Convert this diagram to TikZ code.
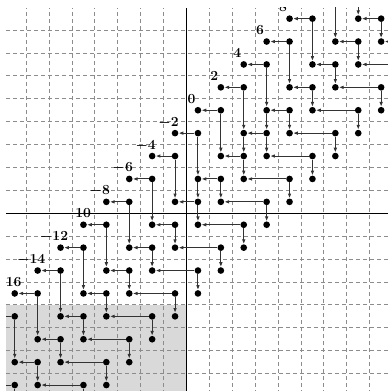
\documentclass[tikz,border=0pt]{standalone}
\usetikzlibrary{arrows.meta}
\tikzset{
  gridline/.style={draw=black!45, line width=1.1pt, dash pattern=on 5pt off 3.7pt},
  axisline/.style={draw=black, line width=1.2pt},
  dot/.style={circle, fill=black, inner sep=0pt, minimum size=0.29cm},
  arr/.style={draw=black!80, line width=1.2pt, -{Latex[length=6pt,width=4.5pt]}},
  lab/.style={anchor=base, inner sep=0pt, font=\fontsize{18}{18}\selectfont\bfseries\boldmath}
}
\begin{document}
\begin{tikzpicture}[x=1cm,y=1cm]
\useasboundingbox (-8.144,-7.760) rectangle (8.799,9.314);
\begin{scope}
\clip (-7.88,-7.9) rectangle (8.9,8.97);
\fill[black!15] (-7.88,-7.9) rectangle (0,-4);
\foreach \i in {-7,...,8}{\draw[gridline] (\i,-7.9) -- (\i,8.97);}
\foreach \j in {-7,...,8}{\draw[gridline] (-7.88,\j) -- (8.9,\j);}
\draw[axisline] (0,-7.9) -- (0,8.97);
\draw[axisline] (-7.88,0) -- (8.9,0);
% dots
\foreach \r in {-10,...,11}{
  \foreach \d in {-4,-3,-1,0,1,3,4}{
    \pgfmathtruncatemacro\cc{\r+\d+20}
    \pgfmathtruncatemacro\rr{\r+20}
    \node[dot] (p\cc-\rr) at ({\r+\d+0.5},{\r+0.5}) {};
  }
}
% horizontal arrows
\foreach \r in {-10,...,11}{
  \pgfmathtruncatemacro\rr{\r+20}
  \pgfmathtruncatemacro\aa{\r-3+20}\pgfmathtruncatemacro\ab{\r-4+20}
  \pgfmathtruncatemacro\ba{\r+20}\pgfmathtruncatemacro\bb{\r-1+20}
  \pgfmathtruncatemacro\ca{\r+3+20}\pgfmathtruncatemacro\cb{\r+1+20}
  \draw[arr] (p\aa-\rr) -- (p\ab-\rr);
  \draw[arr] (p\ba-\rr) -- (p\bb-\rr);
  \draw[arr] (p\ca-\rr) -- (p\cb-\rr);
}
% vertical arrows
\foreach \r in {-8,...,11}{
  \pgfmathtruncatemacro\rr{\r+20}
  \pgfmathtruncatemacro\rb{\r-1+20}
  \pgfmathtruncatemacro\rc{\r-2+20}
  \pgfmathtruncatemacro\aa{\r-3+20}
  \pgfmathtruncatemacro\ba{\r+20}
  \pgfmathtruncatemacro\ca{\r+3+20}
  \draw[arr] (p\aa-\rr) -- (p\aa-\rc);
  \draw[arr] (p\ba-\rr) -- (p\ba-\rb);
  \draw[arr] (p\ca-\rr) -- (p\ca-\rb);
}
% extra vertical arrows
\draw[arr] (p23-24) -- (p23-23);
\draw[arr] (p22-23) -- (p22-22);
\draw[arr] (p20-21) -- (p20-20);
% labels
\foreach \t in {-7,...,4}{
  \pgfmathtruncatemacro\lv{2*\t}
  \node[lab] (l\t) at ({\t+0.5-0.284},{\t+4.5+0.306}) {$\lv$};
}
\node[lab, anchor=base east] (l-8) at ({-8+0.5+0.30},{-8+4.5+0.306}) {$16$};
\end{scope}
\end{tikzpicture}
\end{document}
